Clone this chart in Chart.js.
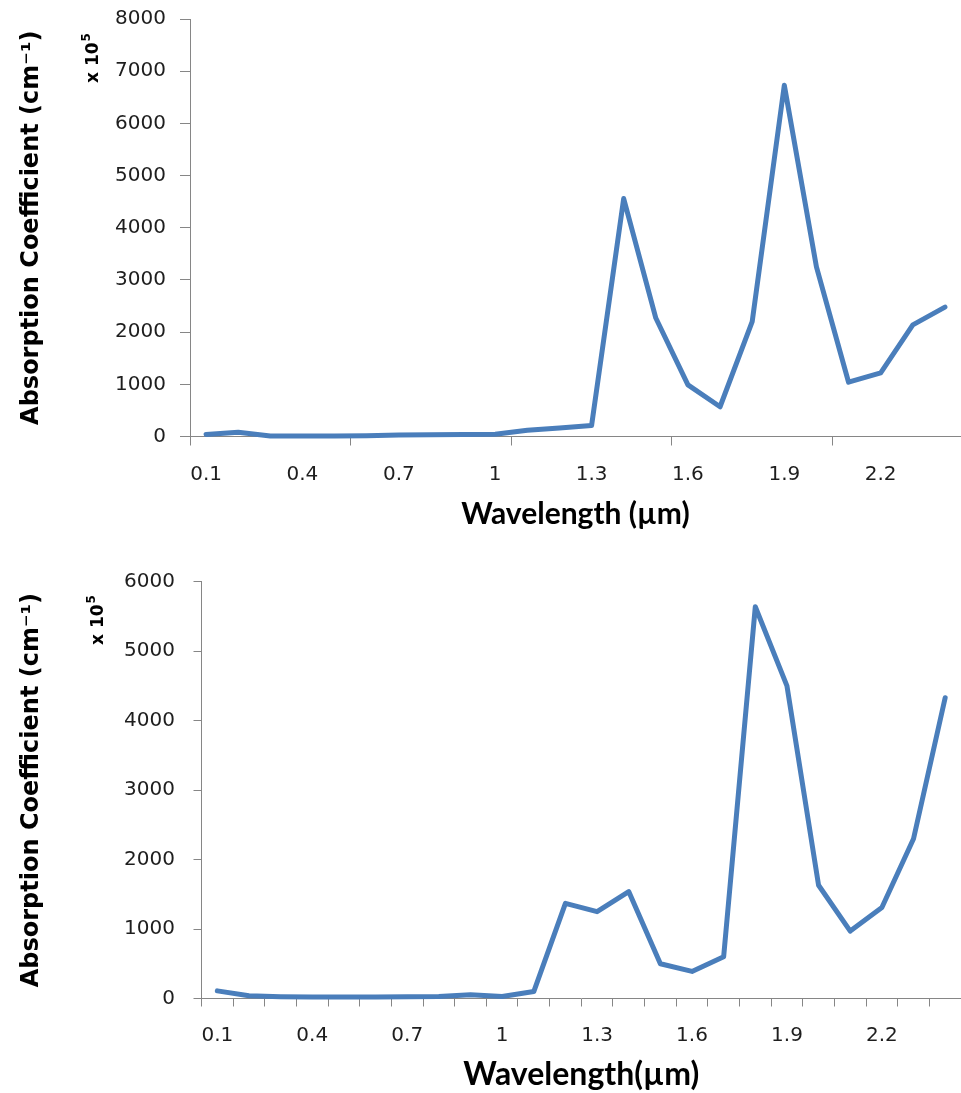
<!DOCTYPE html>
<html>
<head>
<meta charset="utf-8">
<script src="https://cdn.jsdelivr.net/npm/chart.js@4.4.1/dist/chart.umd.min.js"></script>
<style>
  html, body { margin: 0; padding: 0; background: #fff; overflow: hidden; }
  canvas { position: absolute; left: 0; }
  #top { top: 0; }
  #bottom { top: 550px; }
</style>
</head>
<body>
<canvas id="top" width="961" height="550"></canvas>
<canvas id="bottom" width="961" height="543"></canvas>
<script>
// wavelength categories (µm)
const wavelengths = ['0.1', '0.2', '0.3', '0.4', '0.5', '0.6', '0.7', '0.8', '0.9', '1', '1.1', '1.2',
  '1.3', '1.4', '1.5', '1.6', '1.7', '1.8', '1.9', '2', '2.1', '2.2', '2.3', '2.4'];
// labels that are actually printed on the x axis
const shownLabels = ['0.1', '0.4', '0.7', '1', '1.3', '1.6', '1.9', '2.2'];

// absorption coefficient, x 10^5 cm^-1
const absorptionTop = [40, 80, 10, 10, 10, 15, 30, 35, 40, 45, 120, 165, 210, 4560, 2270, 990,
  570, 2200, 6730, 3250, 1040, 1220, 2140, 2480];
const absorptionBottom = [110, 40, 25, 20, 20, 20, 25, 30, 55, 30, 100, 1370, 1250, 1540, 500, 390,
  600, 5640, 4500, 1630, 970, 1310, 2300, 4330];

const yMaxTop = 8000;
const yMaxBottom = 6000;

const lineColor = '#4a7ebb';
const axisColor = '#868686';
const tickFont = { family: '"DejaVu Sans", Verdana, sans-serif', size: 20 };

// small "x 10^5" note beside the y axis
const powerLabel = {
  id: 'powerLabel',
  afterDraw(chart, args, opts) {
    const ctx = chart.ctx;
    ctx.save();
    ctx.translate(opts.x, opts.y);
    ctx.rotate(-Math.PI / 2);
    ctx.fillStyle = '#000';
    ctx.textAlign = 'left';
    ctx.textBaseline = 'alphabetic';
    ctx.font = 'bold 17px "DejaVu Sans"';
    ctx.fillText('x 10', 0, 0);
    const w = ctx.measureText('x 10').width;
    ctx.font = 'bold 12px "DejaVu Sans"';
    ctx.fillText('5', w + 1, -8);
    ctx.restore();
  }
};

function makeChart(id, values, cfg) {
  return new Chart(document.getElementById(id), {
    type: 'line',
    data: {
      labels: wavelengths,
      datasets: [{
        data: values,
        borderColor: lineColor,
        borderWidth: 5,
        pointRadius: 0,
        tension: 0,
        borderJoinStyle: 'round',
        borderCapStyle: 'round',
        clip: false
      }]
    },
    options: {
      responsive: false,
      animation: false,
      layout: { padding: { top: cfg.top, left: 0, right: 0, bottom: 0 } },
      plugins: {
        legend: { display: false },
        tooltip: { enabled: false },
        powerLabel: cfg.power
      },
      scales: {
        x: {
          type: 'category',
          offset: true,
          afterFit: (s) => { s.height = cfg.xHeight; s.paddingLeft = 0; s.paddingRight = 0; },
          border: { color: axisColor, width: 1 },
          grid: {
            offset: true,
            drawOnChartArea: false,
            drawTicks: true,
            tickLength: cfg.xTick,
            color: (c) => (c.index !== undefined && c.index % cfg.tickEvery === 0) ? axisColor : 'rgba(0,0,0,0)'
          },
          ticks: {
            autoSkip: false,
            maxRotation: 0,
            padding: cfg.xPad,
            color: '#1e1e1e',
            font: tickFont,
            callback: function (v) {
              const lab = this.getLabelForValue(v);
              return shownLabels.includes(lab) ? lab : '';
            }
          },
          title: {
            display: true,
            text: cfg.xTitle,
            color: '#000',
            font: { family: 'Lato, sans-serif', size: cfg.xTitleSize, weight: 'bold', lineHeight: 1 },
            padding: { top: 0, bottom: cfg.xTitlePad }
          }
        },
        y: {
          min: 0,
          max: cfg.yMax,
          afterFit: (s) => { s.width = cfg.left; s.paddingTop = 0; s.paddingBottom = 0; },
          border: { color: axisColor, width: 1 },
          grid: {
            drawOnChartArea: false,
            drawTicks: true,
            tickLength: cfg.yTick,
            color: axisColor
          },
          ticks: {
            stepSize: 1000,
            padding: cfg.yPad,
            color: '#1e1e1e',
            font: tickFont,
            callback: (v) => String(v)
          },
          title: {
            display: true,
            text: 'Absorption Coefficient (cm⁻¹)',
            color: '#000',
            font: { family: '"DejaVu Sans", sans-serif', size: 24, weight: 'bold', lineHeight: 1 },
            padding: { top: 20, bottom: 0 }
          }
        }
      }
    },
    plugins: [powerLabel]
  });
}

makeChart('top', absorptionTop, {
  top: 19, left: 190, xHeight: 113.5, yMax: yMaxTop,
  xTick: 9, xPad: 17, yTick: 10, yPad: 14, tickEvery: 5,
  xTitle: 'Wavelength (µm)', xTitleSize: 30, xTitlePad: 21,
  power: { x: 98, y: 83 }
});

makeChart('bottom', absorptionBottom, {
  top: 31.7, left: 201.5, xHeight: 94.5, yMax: yMaxBottom,
  xTick: 8, xPad: 17, yTick: 8, yPad: 18.5, tickEvery: 1,
  xTitle: 'Wavelength(µm)', xTitleSize: 32, xTitlePad: 2,
  power: { x: 103, y: 95 }
});
</script>
</body>
</html>
